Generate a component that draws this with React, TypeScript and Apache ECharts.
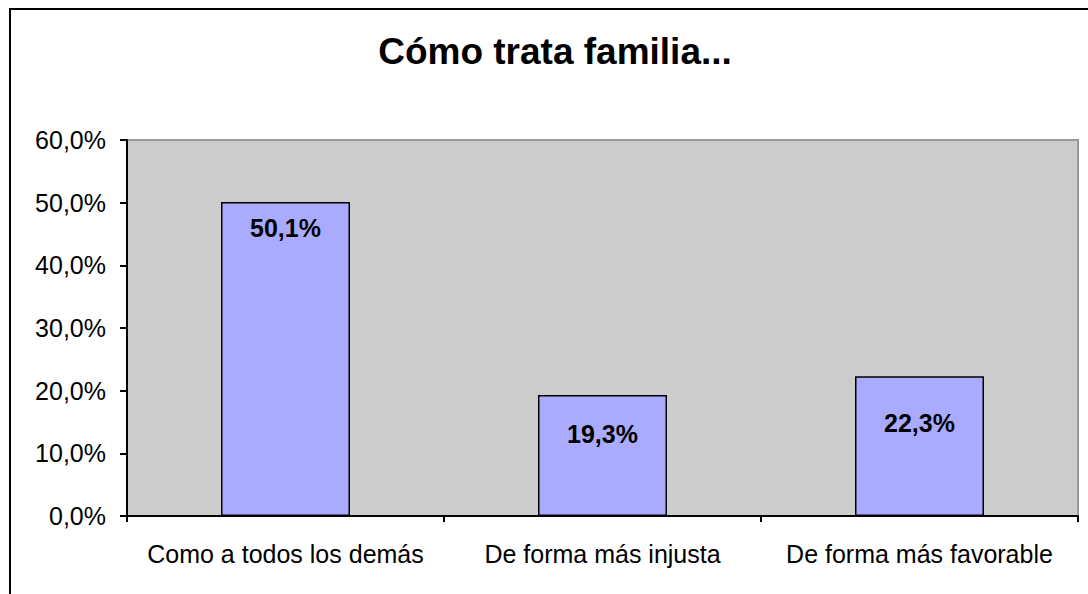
import React, { useEffect, useRef } from "react";
import * as echarts from "echarts";

const categories = ["Como a todos los demás", "De forma más injusta", "De forma más favorable"];
const values = [50.1, 19.3, 22.3];
const yMin = 0;
const yMax = 60;
const yStep = 10;

const fmt = (v: number) => v.toFixed(1).replace(".", ",") + "%";
const FONT = "'Liberation Sans', Arial, sans-serif";

// distance of each value label below its bar's top edge
const labelGaps = [13, 26, 34];

export default function App() {
  const ref = useRef<HTMLDivElement>(null);

  useEffect(() => {
    if (!ref.current) return;
    const chart = echarts.init(ref.current, undefined, { renderer: "svg" });
    chart.setOption({
      animation: false,
      backgroundColor: "#ffffff",
      textStyle: { fontFamily: FONT },
      title: {
        text: "Cómo trata familia...",
        left: 550,
        top: 28,
        textAlign: "center",
        textStyle: { fontFamily: FONT, fontSize: 37, fontWeight: "bold", color: "#000" },
      },
      graphic: [
        {
          type: "rect",
          shape: { x: 10, y: 9, width: 1200, height: 700 },
          style: { fill: "none", stroke: "#000", lineWidth: 2 },
          silent: true,
        },
      ],
      grid: {
        left: 127,
        top: 140,
        right: 10,
        bottom: 78,
        show: true,
        backgroundColor: "#cccccc",
        borderColor: "#999999",
        borderWidth: 2,
      },
      xAxis: {
        type: "category",
        data: categories,
        axisLine: { show: true, lineStyle: { color: "#000", width: 2 } },
        axisTick: { show: true, alignWithLabel: false, length: 6, lineStyle: { color: "#000", width: 2 } },
        axisLabel: { color: "#000", fontSize: 25, fontFamily: FONT, margin: 25, interval: 0 },
        splitLine: { show: false },
      },
      yAxis: {
        type: "value",
        min: yMin,
        max: yMax,
        interval: yStep,
        axisLine: { show: true, lineStyle: { color: "#000", width: 2 } },
        axisTick: { show: true, inside: false, length: 7, lineStyle: { color: "#000", width: 2 } },
        axisLabel: { color: "#000", fontSize: 25, fontFamily: FONT, margin: 21, formatter: fmt },
        splitLine: { show: false },
      },
      series: [
        {
          type: "bar",
          data: values.map((v, i) => ({
            value: v,
            label: { distance: labelGaps[i] },
          })),
          barWidth: 129,
          itemStyle: { color: "#aaaaff", borderColor: "#000", borderWidth: 1.5 },
          label: {
            show: true,
            position: "insideTop",
            formatter: (p: any) => fmt(p.value),
            color: "#000",
            fontSize: 25,
            fontWeight: "bold",
            fontFamily: FONT,
          },
        },
      ],
    });
    return () => chart.dispose();
  }, []);

  return (
    <div
      ref={ref}
      style={{ position: "fixed", left: 0, top: 0, width: 1088, height: 594 }}
    />
  );
}
